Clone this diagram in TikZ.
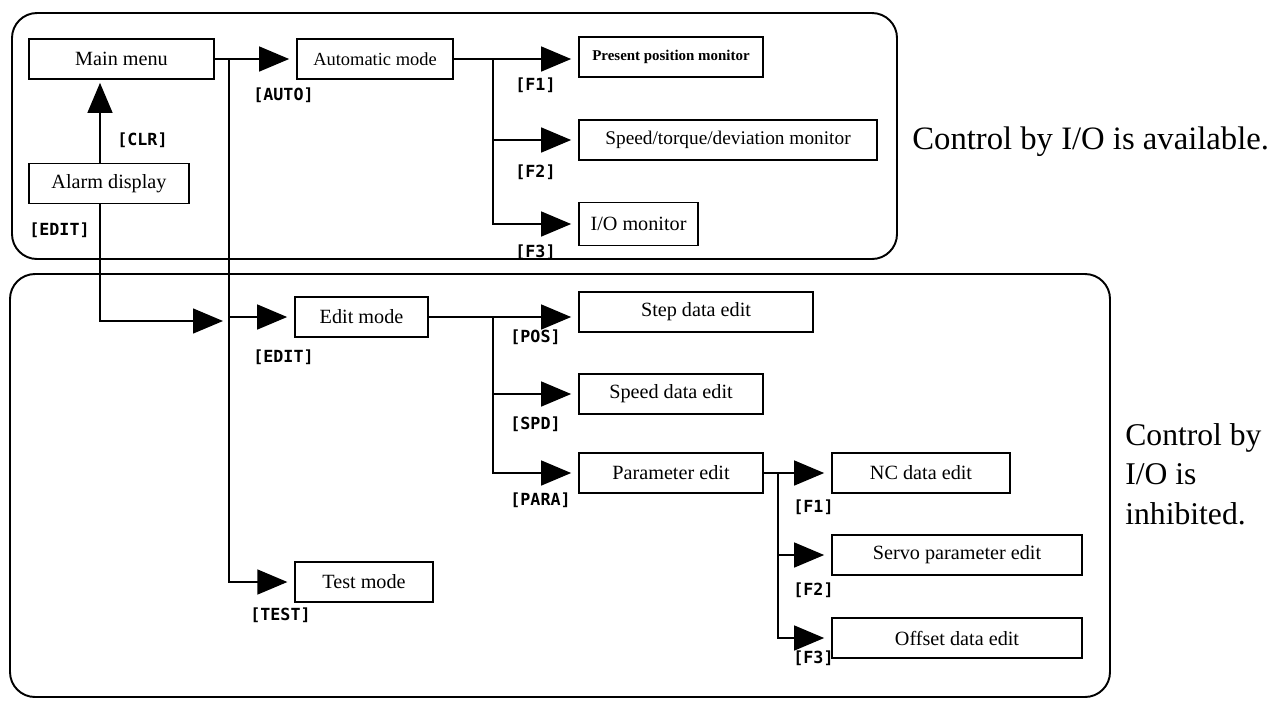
\documentclass[tikz,border=0pt]{standalone}
\usepackage{fontspec}
\setmainfont{Liberation Serif}
\newfontfamily\keyfont{DejaVu Sans Mono}
\usetikzlibrary{arrows.meta}

\begin{document}
\begin{tikzpicture}[x=0.02cm, y=-0.02cm,
  scr/.style={draw, line width=1pt, minimum height=0.8cm, inner sep=1pt,
              font=\fontsize{11.5}{13}\selectfont},
  key/.style={anchor=west, inner sep=0pt,
              font=\keyfont\bfseries\fontsize{9.5}{10}\selectfont},
  arr/.style={-{Triangle[length=0.6cm, width=0.5cm]}, line width=0.8pt,
              shorten >=0.14cm},
  frame/.style={draw, line width=1.1pt, rounded corners=0.5cm},
  note/.style={anchor=west, align=left, inner sep=0pt,
               font=\fontsize{18}{22.5}\selectfont}]
\useasboundingbox (0,0) rectangle (1281,701);

% the two areas
\draw[frame] (12,13) rectangle (897,259);
\draw[frame] (10,274) rectangle (1110,697);

% screens, I/O area
\node[scr, minimum width=3.7cm] (main) at (121.5,59) {Main menu};
\node[scr, minimum width=3.2cm] (alarm) at (109,183.5) {Alarm display};
\node[scr, minimum width=3.12cm, font=\fontsize{10.5}{12}\selectfont] (auto) at (375,59) {Automatic mode};
\node[scr, minimum width=3.68cm, font=\bfseries\fontsize{8.5}{10}\selectfont] (ppm) at (671,57) {Present position monitor};
\node[scr, minimum width=5.96cm, font=\fontsize{11}{13}\selectfont] (stdm) at (728,140) {Speed/torque/deviation monitor};
\node[scr, minimum width=2.38cm, minimum height=0.86cm] (iom) at (638.5,224) {I/O monitor};

% screens, inhibited area
\node[scr, minimum width=2.66cm] (edit) at (361.5,317) {Edit mode};
\node[scr, minimum width=2.75cm] (test) at (364,582) {Test mode};
\node[scr, minimum width=4.68cm] (step) at (696,312) {Step data edit};
\node[scr, minimum width=3.68cm] (spd) at (671,394) {Speed data edit};
\node[scr, minimum width=3.68cm] (par) at (671,473) {Parameter edit};
\node[scr, minimum width=3.56cm] (nc) at (921,473) {NC data edit};
\node[scr, minimum width=5cm] (servo) at (957,555) {Servo parameter edit};
\node[scr, minimum width=5cm] (offs) at (957,638) {Offset data edit};

% branch points
\coordinate (xa) at (100,0);
\coordinate (jm) at (229,59);
\coordinate (ja) at (493,59);
\coordinate (je) at (493,317);
\coordinate (jp) at (778,473);

% connectors
\draw[arr, shorten >=0.06cm] (alarm.north -| xa) -- (main.south -| xa);
\draw[arr] (main) -- (auto);
\draw[arr] (auto.east) -- (auto.east -| ppm.west);
\draw[arr] (ja) |- (stdm);
\draw[arr] (ja) |- (iom);
\draw[arr, shorten >=0.12cm] (alarm.south -| xa) |- ([yshift=-0.08cm]jm |- edit);
\draw[arr] (jm |- edit) -- (edit);
\draw[arr] (jm) |- (test);
\draw[arr] (edit.east) -- (edit.east -| step.west);
\draw[arr] (je) |- (spd);
\draw[arr] (je) |- (par);
\draw[arr] (par) -- (nc);
\draw[arr] (jp) |- (servo);
\draw[arr] (jp) |- (offs);

% keys
\node[key] (kclr) at (117,140) {[CLR]};
\node[key] (kedit1) at (29,230) {[EDIT]};
\node[key] (kauto) at (253,95) {[AUTO]};
\node[key] (kf1) at (515,85) {[F1]};
\node[key] (kf2) at (515,172) {[F2]};
\node[key] (kf3) at (515,252) {[F3]};
\node[key] (kedit2) at (253,357) {[EDIT]};
\node[key] (ktest) at (250,615) {[TEST]};
\node[key] (kpos) at (510,337) {[POS]};
\node[key] (kspd) at (510,424) {[SPD]};
\node[key] (kpara) at (510,500) {[PARA]};
\node[key] (kpf1) at (793,507) {[F1]};
\node[key] (kpf2) at (793,590) {[F2]};
\node[key] (kpf3) at (793,658) {[F3]};

% notes
\node[note, font=\fontsize{18.6}{22.5}\selectfont] (avail) at (912,142) {Control by I/O is available.};
\node[note] (inhib) at (1125,474) {Control by\\I/O is\\inhibited.};
\end{tikzpicture}
\end{document}
